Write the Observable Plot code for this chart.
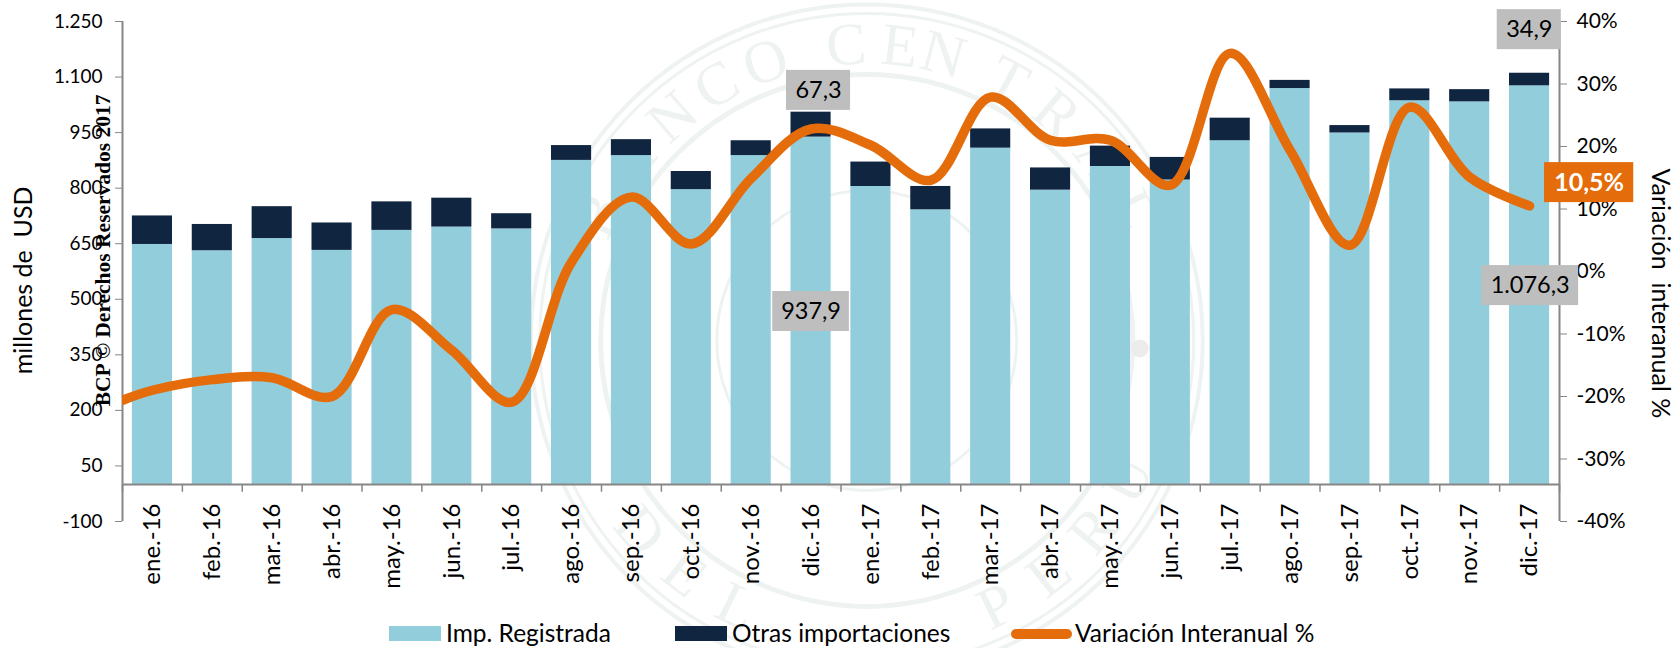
<!DOCTYPE html>
<html><head><meta charset="utf-8">
<script src="https://cdn.jsdelivr.net/npm/d3@7"></script>
<script src="https://cdn.jsdelivr.net/npm/@observablehq/plot@0.6"></script>
<style>
html,body{margin:0;padding:0;background:#fff;overflow:hidden;width:1677px;height:648px}
#chart{position:relative;width:1677px;height:648px;font-family:Lato,sans-serif;color:#000}
#chart svg{position:absolute;left:0;top:0;overflow:visible}
.lg{position:absolute;white-space:pre;font-size:24.5px;line-height:28px}
.sw{position:absolute}
</style></head><body><div id="chart"></div>
<script>
const months=["ene.-16","feb.-16","mar.-16","abr.-16","may.-16","jun.-16","jul.-16","ago.-16","sep.-16","oct.-16","nov.-16","dic.-16","ene.-17","feb.-17","mar.-17","abr.-17","may.-17","jun.-17","jul.-17","ago.-17","sep.-17","oct.-17","nov.-17","dic.-17"];
const registrada=[648,631,664,632,686,695,690,875,888,796,888,937.9,804.5,741.6,908,794.6,858.5,822,928,1069,949,1036,1033,1076.3];
const otras=[77,71,86,74,77,78,41,40,43,49,40,67.3,66,63,52,60,55,61,61,22,20,32,33,34];
const variacion=[-19,-17.3,-17,-20,-6.1,-12.6,-20.9,1.5,11.9,4.4,14.9,22.8,20.2,14.6,27.9,21,21,13.8,34.9,19.4,4.2,26.3,15.1,10.5];
const variacionInicio=-20.6;
const leftTicks=[-100,50,200,350,500,650,800,950,1100,1250];
const rightTicks=[-40,-30,-20,-10,0,10,20,30,40];
const callouts=[
 {t:"67,3",x1:10.59,x2:11.66,y1:1010,y2:1118},
 {t:"937,9",x1:10.36,x2:11.64,y1:413,y2:521},
 {t:"34,9",x1:22.46,x2:23.53,y1:1174,y2:1282},
 {t:"1.076,3",x1:22.2,x2:23.82,y1:483,y2:591}
];
const calloutFinal=[{t:"10,5%",x1:23.25,x2:24.74,y1:761,y2:869}];
const sealLetters=[["B",-65],["A",-53],["N",-41],["C",-30.5],["O",-20],["C",-4],["E",6.4],["N",15],["T",28.5],["R",40],["A",52],["L",64],["D",-130],["E",-142],["L",-154],["P",154],["E",142],["R",130],["U",118]];
const toLeft=p=>(p+40)/80*1350-100;
const fmt=d=>Math.abs(d)>=1000?d3.format(",")(d).replace(",","."):String(d);
const rows=months.map((m,i)=>({m,i,r:registrada[i],o:otras[i]}));
const linePts=[{i:-0.5,v:variacionInicio},...variacion.map((v,i)=>({i,v}))];
const boundaries=d3.range(0,25).map(i=>i-0.5);
const sx=11.93, sy=389, ux=59.875, uy=0.3704, seal="#eef2f1";
const ringR=[{r:336,w:4},{r:327,w:3},{r:266,w:5},{r:150,w:3}];
const letters=sealLetters.map(([t,a])=>{const th=a*Math.PI/180;const R=296;
 return {t,a:Math.abs(a)>90?a-Math.sign(a)*180:a,x:sx+R*Math.sin(th)/ux,y:sy+R*Math.cos(th)/uy};});
const gray="#868686";
const plot=Plot.plot({
 width:1677,height:648,marginLeft:122,marginRight:118,marginTop:21,marginBottom:127,
 style:{fontFamily:"Lato,sans-serif",background:"transparent",color:"#000"},
 x:{domain:[-0.5,23.5],axis:null},
 y:{domain:[-100,1250],axis:null},
 marks:[
  ...ringR.map(d=>Plot.dot([0],{x:()=>sx,y:()=>sy,r:d.r,stroke:seal,strokeWidth:d.w,fill:"none"})),
  Plot.text(letters,{x:"x",y:"y",text:"t",rotate:"a",fontSize:60,fontFamily:"Liberation Serif",fill:seal}),
  Plot.dot([0],{x:()=>sx+273/ux,y:()=>sy-8/uy,r:9,fill:"#ececec"}),
  Plot.rectY(rows,{x1:d=>d.i-0.335,x2:d=>d.i+0.335,y1:0,y2:"r",fill:"#92CDDC"}),
  Plot.rectY(rows,{x1:d=>d.i-0.335,x2:d=>d.i+0.335,y1:"r",y2:d=>d.r+d.o,fill:"#10253F"}),
  Plot.ruleX(boundaries,{x:d=>d,y1:0,y2:-21,stroke:gray,strokeWidth:1.5}),
  Plot.ruleX([-0.5,23.5],{y1:-100,y2:1250,stroke:gray,strokeWidth:2}),
  Plot.ruleY([0],{x1:-0.5,x2:23.5,stroke:gray,strokeWidth:2}),
  Plot.axisY({anchor:"left",ticks:leftTicks,tickFormat:fmt,tickSize:7,tickPadding:13,fontSize:19,label:null,stroke:gray,color:"#000"}),
  Plot.axisY({anchor:"right",ticks:rightTicks.map(toLeft),tickFormat:d=>Math.round((d+100)/1350*80-40)+"%",tickSize:7,tickPadding:10,fontSize:21,label:null,stroke:gray,color:"#000"}),
  Plot.text(rows,{x:"i",y:()=>0,text:"m",rotate:-90,textAnchor:"end",dy:19,fontSize:24,fill:"#000"}),
  Plot.line(linePts,{x:"i",y:d=>toLeft(d.v),curve:"catmull-rom",stroke:"#E46C0A",strokeWidth:9.5,strokeLinecap:"round",clip:"frame"}),
  Plot.rect(callouts,{x1:"x1",x2:"x2",y1:"y1",y2:"y2",fill:"#bebebe"}),
  Plot.text(callouts,{x:d=>(d.x1+d.x2)/2,y:d=>(d.y1+d.y2)/2,text:"t",fill:"#000",fontSize:23.5}),
  Plot.rect(calloutFinal,{x1:"x1",x2:"x2",y1:"y1",y2:"y2",fill:"#E46C0A"}),
  Plot.text(calloutFinal,{x:d=>(d.x1+d.x2)/2,y:d=>(d.y1+d.y2)/2,text:"t",fill:"#fff",fontWeight:"bold",fontSize:25}),
  Plot.text(["millones de  USD"],{x:()=>-2.14,y:()=>551,text:d=>d,rotate:-90,fontSize:25,fill:"#000"}),
  Plot.text(["Variación  interanual %"],{x:()=>25.18,y:()=>516,text:d=>d,rotate:90,fontSize:25,fill:"#000"}),
  Plot.text(["BCP © Derechos Reservados 2017"],{x:()=>-0.83,y:()=>632,text:d=>d,rotate:-90,fontSize:21.5,fontWeight:"bold",fontFamily:"Liberation Serif",fill:"#000"})
 ]
});
const host=document.getElementById("chart");
host.appendChild(plot);
const lg=[
 {x:389,w:52,c:"#92CDDC",tx:446,t:"Imp. Registrada"},
 {x:675,w:52,c:"#10253F",tx:732,t:"Otras importaciones"},
 {x:1011,w:61,c:"#E46C0A",tx:1075,t:"Variación Interanual %",line:true}
];
lg.forEach(d=>{
 const s=document.createElement("div");s.className="sw";
 s.style.cssText=`left:${d.x}px;width:${d.w}px;top:${d.line?629:626}px;height:${d.line?10:15}px;background:${d.c};border-radius:${d.line?5:0}px`;
 host.appendChild(s);
 const t=document.createElement("div");t.className="lg";t.textContent=d.t;
 t.style.left=d.tx+"px";t.style.top="619px";host.appendChild(t);
});
</script></body></html>
